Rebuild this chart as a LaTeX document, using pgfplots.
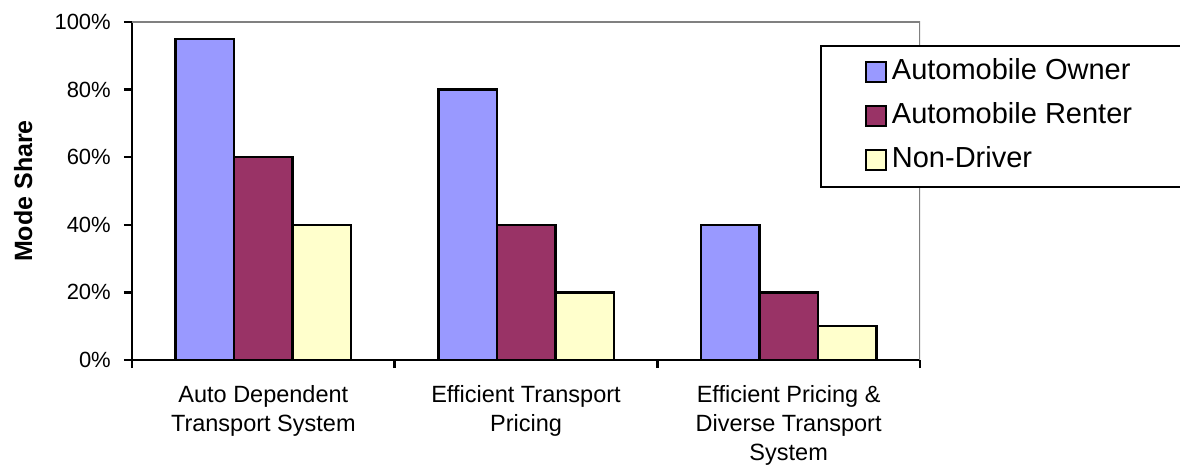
\documentclass[border=0pt]{standalone}
\usepackage{pgfplots}
\pgfplotsset{compat=1.18}
\usepackage{fontspec}
\setmainfont{Liberation Sans}

\definecolor{ownerblue}{RGB}{153,153,255}
\definecolor{renterplum}{RGB}{153,51,102}
\definecolor{nondriver}{RGB}{255,255,204}
\definecolor{framegray}{RGB}{128,128,128}

\begin{document}
\begin{tikzpicture}[x=1pt,y=1pt]
\path[use as bounding box] (0,0) rectangle (1180,464);
\begin{axis}[
  at={(132pt,104pt)}, anchor=south west,
  scale only axis, width=788pt, height=338pt,
  ybar=0pt, bar width=58.5pt,
  xmin=-0.5, xmax=2.5, ymin=0, ymax=100,
  axis x line*=bottom, axis y line*=left,
  axis line style={black, line width=2.5pt},
  tick align=outside, major tick length=8pt,
  tick style={black, line width=2.5pt},
  ytick={0,20,...,100},
  yticklabels={0\%,20\%,40\%,60\%,80\%,100\%},
  yticklabel style={font=\fontsize{22}{26}\selectfont, inner sep=0pt, xshift=-13pt},
  xtick={-0.5,0.5,1.5,2.5}, xticklabels={,,,},
  extra x ticks={0,1,2},
  extra x tick labels={Auto Dependent\\Transport System, Efficient Transport\\Pricing, Efficient Pricing \&\\Diverse Transport\\System},
  extra x tick style={major tick length=0pt,
    xticklabel style={align=center, font=\fontsize{23.5}{29}\selectfont, inner sep=0pt, anchor=north, yshift=-25pt}},
  ylabel={Mode Share},
  ylabel style={font=\bfseries\fontsize{25}{30}\selectfont, at={(axis description cs:-0.138,0.5)}, anchor=center},
  legend style={at={(rel axis cs:0.873,0.932)}, anchor=north west, draw=black, line width=2pt, fill=white,
    font=\fontsize{29}{34}\selectfont, inner xsep=44pt, inner ysep=13pt, row sep=17pt,
    nodes={inner xsep=5pt, inner ysep=0pt, text height=21pt, text depth=6pt}},
  legend cell align=left,
  legend image code/.code={\draw[#1, draw=black, line width=2pt] (0pt,-10pt) rectangle (20pt,10pt);},
]
\addplot[fill=ownerblue, draw=black, line width=2.5pt] coordinates {(0,95) (1,80) (2,40)};
\addplot[fill=renterplum, draw=black, line width=2.5pt] coordinates {(0,60) (1,40) (2,20)};
\addplot[fill=nondriver, draw=black, line width=2.5pt] coordinates {(0,40) (1,20) (2,10)};
\legend{Automobile Owner, Automobile Renter, Non-Driver}
\draw[framegray, line width=2pt] (rel axis cs:0,1) -- (rel axis cs:1,1) -- (rel axis cs:1,0);
\end{axis}
\end{tikzpicture}
\end{document}
